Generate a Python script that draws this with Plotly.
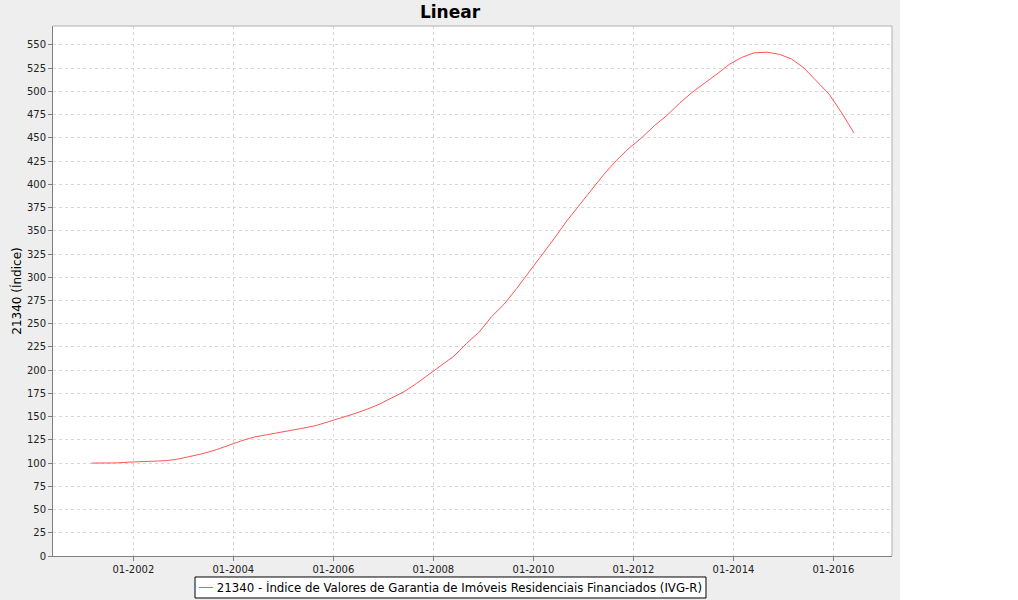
import plotly.graph_objects as go

dates = [
    "2001-03-01", "2001-06-01", "2001-09-01", "2001-12-01",
    "2002-03-01", "2002-06-01", "2002-09-01", "2002-12-01",
    "2003-03-01", "2003-06-01", "2003-09-01", "2003-12-01",
    "2004-03-01", "2004-06-01", "2004-09-01", "2004-12-01",
    "2005-03-01", "2005-06-01", "2005-09-01", "2005-12-01",
    "2006-03-01", "2006-06-01", "2006-09-01", "2006-12-01",
    "2007-03-01", "2007-06-01", "2007-09-01", "2007-12-01",
    "2008-03-01", "2008-06-01", "2008-09-01", "2008-12-01",
    "2009-03-01", "2009-06-01", "2009-09-01", "2009-12-01",
    "2010-03-01", "2010-06-01", "2010-09-01", "2010-12-01",
    "2011-03-01", "2011-06-01", "2011-09-01", "2011-12-01",
    "2012-03-01", "2012-06-01", "2012-09-01", "2012-12-01",
    "2013-03-01", "2013-06-01", "2013-09-01", "2013-12-01",
    "2014-03-01", "2014-06-01", "2014-09-01", "2014-12-01",
    "2015-03-01", "2015-06-01", "2015-09-01", "2015-12-01",
    "2016-03-01", "2016-06-01",
]
values = [
    100.0, 100.0, 100.2, 101.0,
    101.3, 101.5, 102.6, 104.5,
    107.2, 110.5, 114.5, 119.5,
    124.0, 128.0, 130.4, 132.5,
    134.8, 137.8, 140.6, 144.6,
    148.6, 153.0, 157.8, 163.3,
    170.0, 176.8, 185.8, 195.5,
    205.5, 215.3, 229.0, 241.0,
    257.5, 271.0, 288.0, 305.5,
    324.0, 341.5, 360.5, 377.0,
    393.5, 411.0, 426.0, 439.0,
    450.0, 463.0, 474.0, 487.0,
    498.5, 508.3, 518.6, 529.0,
    536.5, 541.5, 542.2, 540.0,
    535.0, 525.0, 511.0, 497.0,
    477.0, 455.0,
]
series_name = "21340 - Índice de Valores de Garantia de Imóveis Residenciais Financiados (IVG-R)"
chart_title = "Linear"
y_title = "21340 (Índice)"
line_color = "#FF5555"

fig = go.Figure()
fig.add_trace(go.Scatter(
    x=dates, y=values, mode="lines", name=series_name,
    line=dict(color=line_color, width=1), showlegend=False,
))

font_main = "DejaVu Sans"
fig.update_layout(
    width=900, height=600,
    paper_bgcolor="#EEEEEE", plot_bgcolor="#FFFFFF",
    margin=dict(l=53, r=8, t=26, b=44, autoexpand=False),
    title=dict(text=chart_title, x=0.5, xref="container", xanchor="center",
               y=0.98, yref="container", yanchor="middle",
               font=dict(family=font_main, size=17, color="#000000", weight="bold")),
    showlegend=False,
    font=dict(family=font_main, size=10, color="#000000"),
)
fig.update_xaxes(
    type="date", range=["2000-05-24", "2017-03-04"], automargin=False,
    tick0="2002-01-01", dtick="M24", tickformat="%m-%Y",
    showgrid=True, gridcolor="#D8D8D8", griddash="3px,3px", gridwidth=1,
    showline=True, linecolor="#808080", linewidth=1, mirror=False,
    ticks="outside", ticklen=4, tickcolor="#808080",
    tickfont=dict(family=font_main, size=10, color="#222222"),
    zeroline=False,
)
fig.update_yaxes(
    range=[0, 570.4], tick0=0, dtick=25, automargin=False,
    showgrid=True, gridcolor="#D8D8D8", griddash="3px,3px", gridwidth=1,
    showline=True, linecolor="#808080", linewidth=1, mirror=False,
    ticks="outside", ticklen=4, tickcolor="#808080",
    tickfont=dict(family=font_main, size=10, color="#222222"),
    title=dict(text=y_title, font=dict(family=font_main, size=12, color="#000000"), standoff=2),
    zeroline=False,
)
# light border on top and right of the plot area
fig.add_shape(type="line", xref="paper", yref="paper", x0=0, x1=1, y0=1, y1=1,
              line=dict(color="#B0B0B0", width=1))
fig.add_shape(type="line", xref="paper", yref="paper", x0=1, x1=1, y0=0, y1=1,
              line=dict(color="#B0B0B0", width=1))

# legend box: white rectangle with black border, a line sample, and the series name
fig.add_shape(type="rect", xref="paper", yref="paper",
              x0=0.16925, x1=0.7783, y0=-0.07925, y1=-0.03962,
              fillcolor="#FFFFFF", line=dict(color="#000000", width=1), layer="above")
fig.add_shape(type="line", xref="paper", yref="paper",
              x0=0.1740, x1=0.1907, y0=-0.0594, y1=-0.0594,
              line=dict(color=line_color, width=1), layer="above")
fig.add_annotation(
    xref="paper", yref="paper", x=0.4738, y=-0.0594,
    xanchor="center", yanchor="middle", showarrow=False,
    text=series_name, align="right", width=503, height=13,
    font=dict(family=font_main, size=11.75, color="#000000"),
    borderpad=3,
)

fig.write_html("out.html", config={"displayModeBar": False},
               post_script="document.body.style.margin='0';")
